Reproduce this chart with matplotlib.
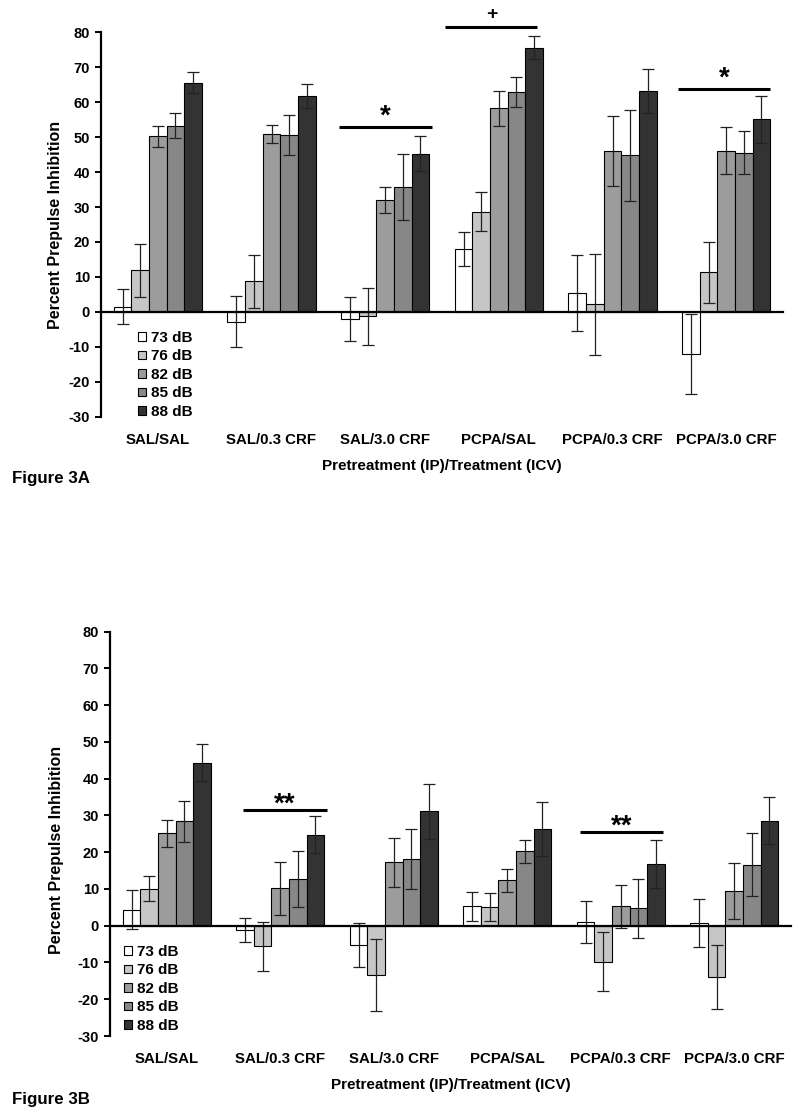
import numpy as np
import matplotlib
matplotlib.use("Agg")
import matplotlib.pyplot as plt
from matplotlib.transforms import blended_transform_factory

plt.rcParams['font.family'] = ['Liberation Sans', 'DejaVu Sans']
plt.rcParams['font.weight'] = 'bold'
plt.rcParams['axes.unicode_minus'] = False

groups = ['SAL/SAL', 'SAL/0.3 CRF', 'SAL/3.0 CRF', 'PCPA/SAL', 'PCPA/0.3 CRF', 'PCPA/3.0 CRF']
levels = ['73 dB', '76 dB', '82 dB', '85 dB', '88 dB']
colors = ['#ffffff', '#c6c6c6', '#9c9c9c', '#878787', '#333333']

# Figure 3A
a_73 = [1.5, -2.8, -2.0, 18.0, 5.4, -12.0]
a_73_err = [5.0, 7.3, 6.2, 4.9, 11.0, 11.5]
a_76 = [11.9, 8.7, -1.3, 28.6, 2.2, 11.3]
a_76_err = [7.6, 7.6, 8.2, 5.6, 14.5, 8.8]
a_82 = [50.2, 50.9, 31.9, 58.2, 46.0, 46.1]
a_82_err = [3.0, 2.7, 3.7, 4.9, 10.0, 6.7]
a_85 = [53.3, 50.6, 35.8, 62.9, 44.8, 45.6]
a_85_err = [3.6, 5.6, 9.5, 4.4, 13.0, 6.2]
a_88 = [65.6, 61.7, 45.3, 75.6, 63.2, 55.1]
a_88_err = [3.0, 3.4, 4.9, 3.3, 6.2, 6.7]

# Figure 3B
b_73 = [4.4, -1.2, -5.2, 5.3, 1.1, 0.7]
b_73_err = [5.3, 3.2, 5.9, 3.9, 5.7, 6.6]
b_76 = [10.1, -5.6, -13.4, 5.1, -9.8, -13.9]
b_76_err = [3.3, 6.6, 9.9, 3.7, 8.0, 8.7]
b_82 = [25.2, 10.2, 17.3, 12.4, 5.3, 9.4]
b_82_err = [3.7, 7.2, 6.7, 3.1, 5.9, 7.7]
b_85 = [28.4, 12.7, 18.2, 20.2, 4.7, 16.6]
b_85_err = [5.5, 7.5, 8.1, 3.2, 8.1, 8.5]
b_88 = [44.4, 24.8, 31.1, 26.3, 16.8, 28.6]
b_88_err = [5.0, 5.1, 7.4, 7.3, 6.4, 6.4]

# significance marks: (group, line height, symbol, left, right)
sig_a = [(2, 53.0, '*', -0.41, 0.41), (3, 81.5, '+', -0.47, 0.34), (5, 63.9, '*', -0.42, 0.39)]
sig_b = [(1, 31.4, '**', -0.33, 0.41), (4, 25.4, '**', -0.36, 0.37)]

W, H = 800, 1116
fig = plt.figure(figsize=(W / 100, H / 100), dpi=100)


def panel(rect, means, errs, sigs, star_off, name, name_y, leg_xy, label_y):
    ax = fig.add_axes(rect)
    x = np.arange(len(groups))
    w = 0.155
    for k in range(len(levels)):
        ax.bar(x + (k - 2) * w, means[k], w, yerr=errs[k], color=colors[k],
               edgecolor='black', linewidth=0.8, label=levels[k],
               error_kw=dict(ecolor='#222222', elinewidth=0.9, capsize=4, capthick=0.9))
    ax.set_xlim(-0.5, 5.5)
    ax.set_ylim(-30, 80)
    ax.set_yticks(np.arange(-30, 81, 10))
    for s in ['top', 'right']:
        ax.spines[s].set_visible(False)
    ax.spines['bottom'].set_position(('data', 0))
    ax.spines['bottom'].set_linewidth(1.6)
    ax.spines['left'].set_linewidth(1.6)
    ax.tick_params(axis='x', length=0, labelbottom=False)
    ax.tick_params(axis='y', direction='out', length=4, width=1.4, labelsize=10.5, pad=4)
    for t in ax.get_yticklabels():
        t.set_fontweight('bold')
    tr = blended_transform_factory(ax.transData, ax.transAxes)
    for i, g in enumerate(groups):
        ax.annotate(g, xy=(i, 0), xycoords=tr, xytext=(0, -16.5), textcoords='offset points',
                    ha='center', va='center', fontsize=10.8, fontweight='bold')
    ax.annotate('Pretreatment (IP)/Treatment (ICV)', xy=(0.5, 0), xycoords='axes fraction',
                xytext=(0, -35.5), textcoords='offset points', ha='center', va='center',
                fontsize=11, fontweight='bold')
    ax.set_ylabel('Percent Prepulse Inhibition', fontsize=11.5, fontweight='bold')
    ax.yaxis.set_label_coords(label_y[0], label_y[1])
    for g, yv, sym, l, r in sigs:
        ax.plot([g + l, g + r], [yv, yv], color='black', linewidth=2.2, clip_on=False,
                solid_capstyle='butt')
        if sym == '+':
            ax.annotate(sym, xy=(g + (l + r) / 2, yv), xytext=(0, 9), textcoords='offset points',
                        ha='center', va='center', fontsize=14, fontweight='bold',
                        annotation_clip=False)
        else:
            ax.annotate(sym, xy=(g + (l + r) / 2, yv), xytext=(0, star_off),
                        textcoords='offset points', ha='center', va='center',
                        fontsize=20, fontweight='bold', annotation_clip=False)
    ax.legend(loc='upper left', bbox_to_anchor=leg_xy, bbox_transform=fig.transFigure,
              frameon=False, handlelength=0.5, handleheight=0.5,
              handletextpad=0.35, labelspacing=0.29, borderpad=0, borderaxespad=0,
              prop=dict(weight='bold', size=11))
    fig.text(12 / W, 1 - name_y / H, name, fontsize=12.2, fontweight='bold',
             ha='left', va='baseline')
    return ax


panel([101 / W, 1 - 416.7 / H, 682 / W, 384.4 / H],
      [a_73, a_76, a_82, a_85, a_88], [a_73_err, a_76_err, a_82_err, a_85_err, a_88_err],
      sig_a, 7, 'Figure 3A', 483, (138 / W, 1 - 331 / H), (-0.055, 0.5))
panel([110 / W, 1 - 1036 / H, 681 / W, 404.3 / H],
      [b_73, b_76, b_82, b_85, b_88], [b_73_err, b_76_err, b_82_err, b_85_err, b_88_err],
      sig_b, 4, 'Figure 3B', 1104, (124 / W, 1 - 945 / H), (-0.068, 0.46))

fig.savefig('out.png', dpi=100)
